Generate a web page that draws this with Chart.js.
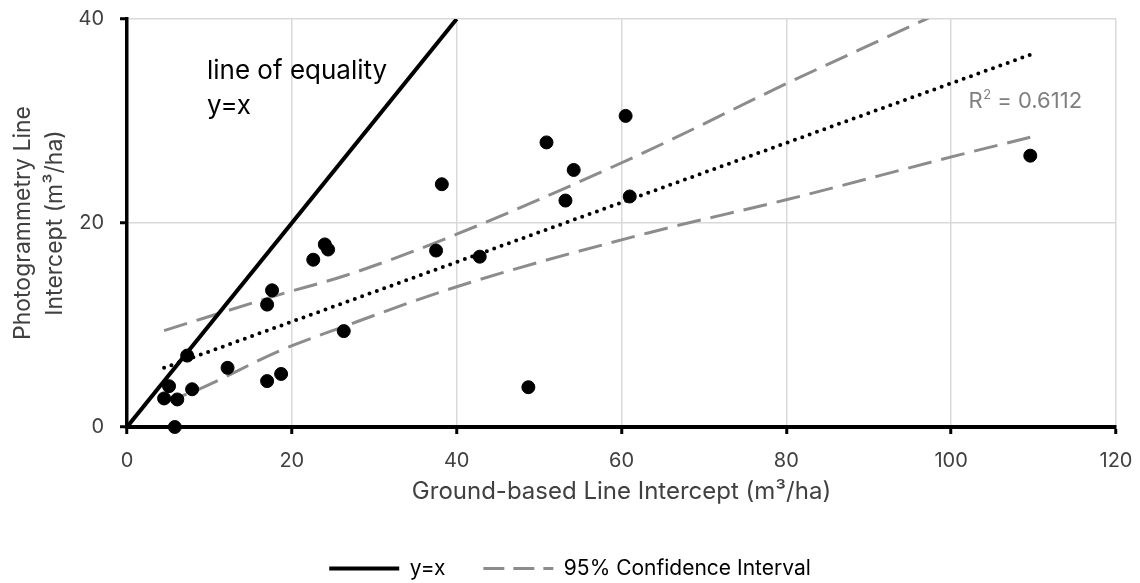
<!DOCTYPE html>
<html><head><meta charset="utf-8">
<script src="https://cdn.jsdelivr.net/npm/chart.js@4"></script>
<style>html,body{margin:0;padding:0;background:#fff;} #wrap{width:1140px;height:583px;position:relative;}</style>
</head><body><div id="wrap"><canvas id="c"></canvas></div>
<script>
// ---- data ----
const groundX = [4.5, 5.1, 6.1, 5.8, 7.3, 7.9, 12.2, 17.0, 18.7, 17.0, 17.6, 22.6, 24.0, 24.4, 26.3, 38.2, 37.5, 42.8, 48.7, 50.9, 54.2, 53.2, 60.5, 61.0, 109.6];
const photoY  = [2.8, 4.0, 2.7, 0.0, 7.0, 3.7, 5.8, 4.5, 5.2, 12.0, 13.4, 16.4, 17.9, 17.4, 9.4, 23.8, 17.3, 16.7, 3.9, 27.9, 25.2, 22.2, 30.5, 22.6, 26.6];
const equalityX = [0, 40];
const equalityY = [0, 40];
const trendX = [4.5, 109.6];
const trendY = [5.8, 36.5];
const upperX = [4.5, 18.6, 26.7, 40, 62.7, 80.1, 96.7, 109.6];
const upperY = [9.45, 13.0, 14.9, 18.9, 26.9, 33.7, 39.9, 44.8];
const lowerX = [4.5, 8.7, 18.6, 25.8, 40, 63.1, 80.1, 101.1, 109.6];
const lowerY = [2.4, 3.7, 7.5, 9.7, 13.75, 19.0, 22.3, 26.7, 28.4];
const xTicks = [0, 20, 40, 60, 80, 100, 120];
const yTicks = [0, 20, 40];
const rSquared = '0.6112';

const pts = (xs, ys) => xs.map((x, i) => ({x: x, y: ys[i]}));
const FONT = 'Inter, "Noto Sans", sans-serif';
const TXT = '#404040';

const notesPlugin = {
  id: 'notes',
  afterDatasetsDraw(chart) {
    const {ctx, scales: {x, y}} = chart;
    ctx.save();
    ctx.fillStyle = '#000';
    ctx.font = '26px ' + FONT;
    ctx.textBaseline = 'middle';
    ctx.textAlign = 'left';
    ctx.fillText('line of equality', x.getPixelForValue(9.7), y.getPixelForValue(34.9));
    ctx.fillText('y=x', x.getPixelForValue(9.7), y.getPixelForValue(31.5));
    // R^2 label
    ctx.fillStyle = '#7f7f7f';
    let px = x.getPixelForValue(102.1), py = y.getPixelForValue(31.9);
    ctx.font = '22px ' + FONT;
    ctx.fillText('R', px, py);
    px += ctx.measureText('R').width + 0.5;
    ctx.font = '13px ' + FONT;
    ctx.fillText('2', px, py - 7);
    px += ctx.measureText('2').width;
    ctx.font = '22px ' + FONT;
    ctx.fillText(' = ' + rSquared, px, py);
    ctx.restore();
  }
};

new Chart(document.getElementById('c'), {
  type: 'scatter',
  data: {
    datasets: [
      {label: 'data', data: pts(groundX, photoY), backgroundColor: '#000', borderColor: '#000',
       pointRadius: 6.5, pointHoverRadius: 6.5, clip: false},
      {label: 'y=x', data: pts(equalityX, equalityY), showLine: true, borderColor: '#000',
       borderWidth: 4, pointRadius: 0},
      {label: 'trend', data: pts(trendX, trendY), showLine: true, borderColor: '#000',
       borderWidth: 4, borderDash: [0, 7.8], borderCapStyle: 'round', pointRadius: 0},
      {label: 'upper', data: pts(upperX, upperY), showLine: true, borderColor: '#8c8c8c',
       borderWidth: 3, borderDash: [24, 10], pointRadius: 0, cubicInterpolationMode: 'monotone'},
      {label: 'lower', data: pts(lowerX, lowerY), showLine: true, borderColor: '#8c8c8c',
       borderWidth: 3, borderDash: [24, 10], pointRadius: 0, cubicInterpolationMode: 'monotone'}
    ]
  },
  options: {
    responsive: true,
    maintainAspectRatio: false,
    animation: false,
    events: [],
    layout: {padding: {left: 0, right: 0, top: 19, bottom: -6}},
    plugins: {
      tooltip: {enabled: false},
      legend: {
        position: 'bottom',
        labels: {
          usePointStyle: true,
          pointStyleWidth: 70,
          padding: 38,
          color: '#595959',
          font: {family: FONT, size: 21},
          generateLabels: () => [
            {text: 'y=x', fillStyle: '#000', strokeStyle: '#000', lineWidth: 4, lineDash: [],
             pointStyle: 'line', datasetIndex: 1},
            {text: '95% Confidence Interval', fillStyle: '#8c8c8c', strokeStyle: '#8c8c8c', lineWidth: 3,
             lineDash: [21, 9], pointStyle: 'line', datasetIndex: 3}
          ]
        }
      }
    },
    scales: {
      x: {
        type: 'linear', min: 0, max: 120,
        afterBuildTicks: s => { s.ticks = xTicks.map(v => ({value: v})); },
        afterFit: s => { s.height = 93; s.paddingLeft = 0; s.paddingRight = 24; },
        ticks: {color: TXT, font: {family: FONT, size: 20}, padding: 14.5},
        grid: {color: '#d9d9d9', lineWidth: 1.5, tickColor: '#000', tickWidth: 3, tickLength: 7},
        border: {color: '#000', width: 4},
        title: {display: true, text: 'Ground-based Line Intercept (m³/ha)', color: TXT,
                font: {family: FONT, size: 24}, padding: {top: 4, bottom: 13.6}}
      },
      y: {
        type: 'linear', min: 0, max: 40,
        afterBuildTicks: s => { s.ticks = yTicks.map(v => ({value: v})); },
        afterFit: s => { s.width = 127; s.paddingTop = 0; s.paddingBottom = 0; },
        ticks: {color: TXT, font: {family: FONT, size: 20}, padding: 16},
        grid: {color: '#d9d9d9', lineWidth: 1.5, tickColor: '#000', tickWidth: 3, tickLength: 7},
        border: {color: '#000', width: 3.5},
        title: {display: true, text: ['Photogrammetry Line', 'Intercept (m³/ha)'], color: TXT,
                font: {family: FONT, size: 23, lineHeight: 1.39}, padding: {top: 7, bottom: 0}}
      }
    }
  },
  plugins: [notesPlugin]
});
</script></body></html>
